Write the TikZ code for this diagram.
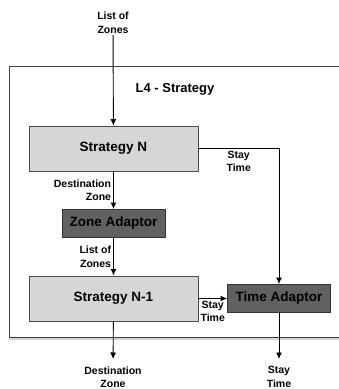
\documentclass[tikz,border=0pt]{standalone}
\usepackage{fontspec}
\setmainfont{Liberation Sans}
\usetikzlibrary{positioning,shadows,arrows.meta}

\begin{document}
\begin{tikzpicture}[x=1pt,y=-1pt,line width=0.9pt,>={Latex[length=6.5pt,width=6pt]},
	lbl/.style={font=\fontsize{10.5}{13.5}\selectfont\bfseries,align=center,inner sep=1pt},
	strat/.style={draw=black!70,fill=black!16,minimum width=169pt,minimum height=45pt,font=\fontsize{13.5}{15}\selectfont\bfseries},
	adaptor/.style={draw=black!80,fill=black!62,minimum width=103pt,minimum height=28pt,font=\fontsize{13.5}{15}\selectfont\bfseries}]
\useasboundingbox(0,0)rectangle(339,389);
\draw[draw=black!75,fill=white,drop shadow={shadow xshift=1pt,shadow yshift=-2.5pt,opacity=.35}](9,66)rectangle(360,337);
\node[font=\fontsize{13}{15}\selectfont\bfseries](title)at(175,89){L4 - Strategy};
\node[lbl,anchor=south](inZones)at(113,35){List of\\Zones};
\node[strat](stratN)at(113.5,148.5){Strategy N};
\node[adaptor](zoneAd)at(113.5,223.5){Zone Adaptor};
\node[strat](stratN1)at(113.5,298.5){Strategy N-1};
\node[adaptor](timeAd)at(279,298.5){Time Adaptor};
\node[lbl,anchor=north](outZone)at(113,365){Destination\\Zone};
\node[lbl,anchor=north](outTime)at(279,365){Stay\\Time};
\draw[->](inZones)--(stratN);
\draw[->](stratN)--node[lbl,left,align=right,xshift=-1pt]{Destination\\Zone}(zoneAd);
\draw[->](zoneAd)--node[lbl,left,align=right,xshift=-1pt]{List of\\Zones}(stratN1);
\draw[->](stratN.east)-|node[lbl,below,pos=0.25,yshift=-1pt]{Stay\\Time}(timeAd.north);
\draw[->](stratN1.east|-timeAd)--node[lbl,below,yshift=-1pt]{Stay\\Time}(timeAd.west);
\draw[->,shorten >=6pt](stratN1)--(outZone);
\draw[->,shorten >=6pt](timeAd)--(outTime);
\end{tikzpicture}
\end{document}
